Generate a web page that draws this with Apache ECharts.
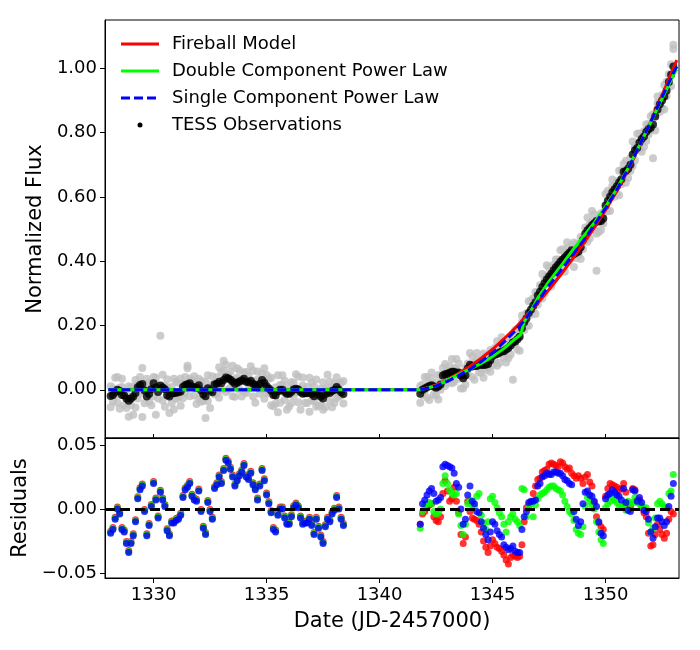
<!DOCTYPE html>
<html>
<head>
<meta charset="utf-8">
<script src="https://cdn.jsdelivr.net/npm/echarts@6/dist/echarts.min.js"></script>
<style>
  html, body { margin: 0; padding: 0; background: #fff; }
  #chart { width: 700px; height: 650px; }
</style>
</head>
<body>
<div id="chart"></div>
<script>
// observation times (JD-2457000), before the gap and after it
const tEarly = [
  1328.1,1328.2,1328.3,1328.4,1328.5,1328.6,1328.7,1328.8,1328.9,1329.0,
  1329.1,1329.2,1329.3,1329.4,1329.5,1329.6,1329.7,1329.8,1329.9,1330.0,
  1330.1,1330.2,1330.3,1330.4,1330.5,1330.6,1330.7,1330.8,1330.9,1331.0,
  1331.1,1331.2,1331.3,1331.4,1331.5,1331.6,1331.7,1331.8,1331.9,1332.0,
  1332.1,1332.2,1332.3,1332.4,1332.5,1332.6,1332.7,1332.8,1332.9,1333.0,
  1333.1,1333.2,1333.3,1333.4,1333.5,1333.6,1333.7,1333.8,1333.9,1334.0,
  1334.1,1334.2,1334.3,1334.4,1334.5,1334.6,1334.7,1334.8,1334.9,1335.0,
  1335.1,1335.2,1335.3,1335.4,1335.5,1335.6,1335.7,1335.8,1335.9,1336.0,
  1336.1,1336.2,1336.3,1336.4,1336.5,1336.6,1336.7,1336.8,1336.9,1337.0,
  1337.1,1337.2,1337.3,1337.4,1337.5,1337.6,1337.7,1337.8,1337.9,1338.0,
  1338.1,1338.2,1338.3,1338.4
];
const tLate = [
  1341.8,1341.9,1342.0,1342.1,1342.2,1342.3,1342.4,1342.5,1342.6,1342.7,
  1342.8,1342.9,1343.0,1343.1,1343.2,1343.3,1343.4,1343.5,1343.6,1343.7,
  1343.8,1343.9,1344.0,1344.1,1344.2,1344.3,1344.4,1344.5,1344.6,1344.7,
  1344.8,1344.9,1345.0,1345.1,1345.2,1345.3,1345.4,1345.5,1345.6,1345.7,
  1345.8,1345.9,1346.0,1346.1,1346.2,1346.3,1346.4,1346.5,1346.6,1346.7,
  1346.8,1346.9,1347.0,1347.1,1347.2,1347.3,1347.4,1347.5,1347.6,1347.7,
  1347.8,1347.9,1348.0,1348.1,1348.2,1348.3,1348.4,1348.5,1348.6,1348.7,
  1348.8,1348.9,1349.0,1349.1,1349.2,1349.3,1349.4,1349.5,1349.6,1349.7,
  1349.8,1349.9,1350.0,1350.1,1350.2,1350.3,1350.4,1350.5,1350.6,1350.7,
  1350.8,1350.9,1351.0,1351.1,1351.2,1351.3,1351.4,1351.5,1351.6,1351.7,
  1351.8,1351.9,1352.0,1352.1,1352.2,1352.3,1352.4,1352.5,1352.6,1352.7,
  1352.8,1352.9,1353.0
];

// raw TESS flux (grey), two samples per time step
const rawEarlyA = [
  0.011,-0.036,0.037,-0.040,0.006,0.034,-0.048,-0.007,-0.084,0.008,
  -0.078,0.030,-0.027,0.040,-0.085,0.013,0.034,-0.038,0.007,-0.020,
  0.037,-0.027,0.168,-0.033,0.012,0.033,-0.072,0.009,-0.061,0.026,
  -0.023,0.035,-0.026,0.040,0.075,0.035,0.030,-0.018,0.011,-0.026,
  0.028,-0.035,0.025,-0.035,0.008,0.042,-0.014,0.039,-0.025,0.055,
  0.090,0.078,0.001,0.056,-0.020,0.033,0.067,0.001,0.034,-0.006,
  0.055,0.003,0.073,-0.021,0.025,0.057,-0.012,0.050,-0.028,0.046,
  -0.011,0.037,-0.051,0.007,-0.070,0.015,0.045,-0.032,-0.007,-0.052,
  0.024,-0.019,0.048,-0.039,0.003,0.038,-0.041,0.009,-0.068,0.022,
  -0.035,0.032,-0.050,0.003,-0.062,0.001,0.047,-0.035,0.001,-0.041,
  0.039,-0.020,0.022,-0.043
];
const rawEarlyB = [
  -0.054,0.004,-0.018,0.040,-0.059,0.009,-0.013,-0.057,0.011,-0.047,
  0.009,-0.055,0.018,-0.010,0.068,-0.042,-0.006,0.022,-0.048,0.040,
  -0.078,0.013,0.003,0.047,-0.053,0.008,-0.016,-0.041,0.034,-0.029,
  0.022,-0.050,0.019,-0.010,0.067,-0.020,0.025,0.042,-0.044,0.034,
  -0.037,0.005,-0.088,0.045,-0.057,0.017,0.021,-0.011,0.070,0.000,
  0.060,-0.007,0.046,0.006,0.075,-0.022,0.037,0.061,-0.021,0.054,
  -0.010,0.043,0.018,0.059,-0.040,0.032,0.023,0.000,0.067,-0.009,
  0.034,-0.048,-0.006,-0.043,0.045,-0.040,0.015,0.028,-0.062,0.008,
  -0.041,0.021,-0.007,0.041,-0.062,0.013,-0.006,-0.041,0.037,-0.033,
  0.010,-0.053,-0.005,-0.047,0.023,-0.054,0.007,0.025,-0.054,0.019,
  -0.026,0.020,-0.018,0.027
];
const rawLateA = [
  0.012,-0.016,0.040,-0.024,0.020,0.054,-0.014,0.022,-0.030,0.044,
  0.032,0.080,0.022,0.073,0.020,0.068,0.096,0.034,0.048,0.004,
  0.068,0.050,0.114,0.040,0.083,0.114,0.054,0.093,0.037,0.106,
  0.068,0.124,0.077,0.130,0.075,0.127,0.163,0.100,0.129,0.098,
  0.162,0.031,0.186,0.125,0.173,0.231,0.186,0.238,0.199,0.278,
  0.249,0.304,0.265,0.325,0.284,0.343,0.387,0.332,0.365,0.340,
  0.405,0.373,0.434,0.373,0.419,0.459,0.402,0.450,0.382,0.454,
  0.418,0.475,0.438,0.505,0.460,0.515,0.556,0.498,0.370,0.491,
  0.549,0.517,0.609,0.555,0.608,0.654,0.600,0.649,0.605,0.683,
  0.666,0.712,0.659,0.720,0.696,0.757,0.796,0.749,0.784,0.756,
  0.826,0.794,0.851,0.720,0.858,0.912,0.864,0.916,0.872,0.958,
  0.945,1.012,1.060
];
const rawLateB = [
  -0.040,0.016,-0.004,0.040,-0.032,0.034,0.014,-0.018,0.046,0.000,
  0.068,0.012,0.058,0.033,0.096,0.024,0.064,0.082,0.004,0.052,
  0.016,0.082,0.070,0.104,0.031,0.094,0.082,0.053,0.113,0.062,
  0.104,0.056,0.113,0.090,0.151,0.083,0.131,0.148,0.085,0.146,
  0.110,0.163,0.142,0.189,0.121,0.211,0.214,0.198,0.275,0.234,
  0.285,0.236,0.301,0.285,0.360,0.299,0.355,0.380,0.321,0.388,
  0.353,0.405,0.390,0.437,0.367,0.439,0.430,0.410,0.458,0.410,
  0.454,0.407,0.474,0.465,0.536,0.471,0.524,0.546,0.485,0.539,
  0.497,0.549,0.565,0.619,0.556,0.634,0.628,0.609,0.681,0.639,
  0.702,0.644,0.695,0.680,0.772,0.713,0.764,0.797,0.740,0.804,
  0.774,0.826,0.807,0.857,0.806,0.892,0.892,0.876,0.948,0.914,
  0.981,0.944,1.073
];

// binned TESS flux (black). Before the rise all models are 0,
// so these are also the residuals of the first segment
const obsEarly = [
  -0.019,-0.016,-0.008,0.000,-0.004,-0.016,-0.018,-0.027,-0.034,-0.027,
  -0.021,-0.010,0.008,0.015,0.018,-0.002,-0.021,-0.013,0.002,0.020,
  0.007,-0.007,0.013,0.007,0.002,-0.017,-0.021,-0.011,-0.011,-0.009,
  -0.008,-0.005,0.009,0.015,0.017,0.020,0.010,0.007,0.006,0.014,
  -0.002,-0.015,-0.020,0.005,-0.002,-0.008,0.016,0.019,0.025,0.020,
  0.030,0.038,0.036,0.031,0.025,0.018,0.022,0.026,0.029,0.034,
  0.025,0.023,0.028,0.019,0.015,0.007,0.018,0.030,0.022,0.011,
  0.004,-0.003,-0.016,-0.018,-0.005,0.000,0.000,-0.007,-0.012,-0.012,
  -0.006,0.001,0.003,0.001,-0.007,-0.012,-0.011,-0.011,-0.008,-0.013,
  -0.020,-0.008,-0.015,-0.022,-0.027,-0.014,-0.008,-0.010,-0.004,-0.001,
  0.009,0.000,-0.008,-0.013
];
const obsLate = [
  -0.012,0.000,0.004,0.008,0.012,0.014,0.010,0.006,0.010,0.016,
  0.044,0.048,0.050,0.053,0.056,0.056,0.052,0.054,0.044,0.036,
  0.044,0.066,0.078,0.072,0.075,0.074,0.078,0.077,0.077,0.078,
  0.080,0.092,0.105,0.110,0.111,0.115,0.119,0.120,0.125,0.130,
  0.138,0.147,0.150,0.157,0.165,0.191,0.210,0.222,0.239,0.250,
  0.261,0.272,0.293,0.305,0.320,0.331,0.343,0.352,0.361,0.372,
  0.381,0.389,0.398,0.405,0.411,0.419,0.426,0.434,0.422,0.426,
  0.430,0.443,0.466,0.485,0.496,0.503,0.512,0.518,0.525,0.523,
  0.525,0.533,0.573,0.587,0.600,0.614,0.624,0.633,0.645,0.655,
  0.678,0.680,0.687,0.700,0.732,0.745,0.752,0.769,0.780,0.788,
  0.802,0.810,0.815,0.825,0.850,0.872,0.888,0.900,0.912,0.930,
  0.957,0.980,1.005
];

// model curves
const tModel = [
  1328.0,1341.8,1342.0,1342.5,1343.0,1343.5,1344.0,1344.5,1345.0,1345.5,
  1346.0,1346.25,1346.4,1346.5,1347.0,1347.5,1348.0,1348.5,1349.0,1349.5,
  1350.0,1350.5,1351.0,1351.5,1352.0,1352.5,1353.0,1353.15
];
const fireball = [
  0,0,0.004,0.015,0.031,0.051,0.073,0.098,0.126,0.158,
  0.192,0.211,0.222,0.230,0.270,0.312,0.356,0.403,0.452,0.504,
  0.559,0.618,0.684,0.757,0.834,0.915,1.000,1.025
];
const doublePL = [
  0,0,0.003,0.012,0.030,0.048,0.064,0.082,0.103,0.128,
  0.158,0.172,0.212,0.222,0.285,0.337,0.383,0.430,0.475,0.520,
  0.570,0.625,0.690,0.760,0.832,0.905,0.978,0.997
];
const singlePL = [
  0,0,0.003,0.012,0.026,0.044,0.064,0.088,0.115,0.148,
  0.183,0.203,0.216,0.224,0.275,0.325,0.370,0.415,0.462,0.512,
  0.565,0.622,0.688,0.760,0.833,0.910,0.985,1.005
];

// residuals after the gap, one array per model
const resFireLate = [
  -0.012,-0.004,-0.002,0.001,0.003,0.004,-0.006,-0.009,-0.010,-0.006,
  0.012,0.022,0.014,0.006,0.008,0.017,0.006,-0.003,-0.020,-0.027,
  -0.022,0.006,-0.002,-0.007,-0.008,-0.009,-0.012,-0.018,-0.025,-0.030,
  -0.034,-0.029,-0.024,-0.027,-0.030,-0.031,-0.033,-0.036,-0.040,-0.043,
  -0.038,-0.036,-0.037,-0.038,-0.037,-0.028,-0.010,0.001,0.003,0.005,
  0.012,0.018,0.023,0.024,0.029,0.030,0.031,0.035,0.036,0.035,
  0.034,0.033,0.037,0.036,0.033,0.031,0.032,0.028,0.026,0.024,
  0.026,0.024,0.020,0.025,0.027,0.021,0.018,0.005,-0.006,-0.011,
  -0.014,-0.016,0.010,0.016,0.020,0.019,0.018,0.017,0.015,0.016,
  0.020,0.013,0.004,0.002,0.016,0.015,0.007,0.007,0.001,-0.003,
  -0.006,-0.019,-0.029,-0.028,-0.020,-0.012,-0.016,-0.020,-0.023,-0.019,
  -0.008,-0.002,-0.004
];
const resDoubleLate = [
  -0.015,-0.002,0.002,0.004,0.005,0.004,-0.002,-0.004,-0.003,0.000,
  0.020,0.026,0.020,0.015,0.012,0.011,0.012,-0.004,-0.013,-0.020,
  -0.012,0.004,0.007,0.003,0.002,0.010,0.012,-0.005,-0.011,-0.016,
  -0.010,0.008,0.010,0.005,0.001,-0.003,-0.006,-0.012,-0.018,-0.010,
  -0.006,-0.004,-0.008,-0.010,-0.013,0.016,0.015,-0.006,0.002,0.004,
  -0.006,0.003,0.008,0.011,0.012,0.013,0.015,0.017,0.018,0.018,
  0.016,0.015,0.014,0.011,0.006,0.002,-0.002,-0.004,-0.009,-0.016,
  -0.019,-0.020,-0.014,0.002,0.009,0.006,0.003,0.000,-0.010,-0.018,
  -0.024,-0.027,0.001,0.004,0.006,0.009,0.007,0.005,0.002,0.002,
  0.003,-0.001,0.006,0.004,0.005,0.009,0.005,0.004,0.002,0.001,
  0.001,-0.011,-0.018,-0.015,-0.007,0.004,0.006,0.004,0.002,0.001,
  0.012,0.014,0.027
];
const resSingleLate = [
  -0.012,0.004,0.007,0.011,0.014,0.016,0.012,0.006,0.007,0.009,
  0.033,0.035,0.034,0.033,0.032,0.028,0.020,0.017,0.000,-0.012,
  -0.008,0.011,0.018,0.006,0.004,-0.002,-0.003,-0.010,-0.015,-0.020,
  -0.024,-0.018,-0.010,-0.012,-0.017,-0.020,-0.022,-0.028,-0.030,-0.032,
  -0.031,-0.029,-0.033,-0.034,-0.034,-0.016,-0.006,-0.002,0.005,0.006,
  0.006,0.007,0.018,0.020,0.025,0.026,0.028,0.027,0.027,0.029,
  0.029,0.028,0.028,0.026,0.023,0.022,0.020,0.019,-0.002,-0.008,
  -0.013,-0.010,0.004,0.013,0.014,0.011,0.010,0.006,0.002,-0.010,
  -0.019,-0.021,0.008,0.011,0.012,0.015,0.013,0.011,0.010,0.007,
  0.016,0.005,-0.001,-0.002,0.015,0.014,0.006,0.009,0.005,-0.001,
  -0.002,-0.008,-0.018,-0.023,-0.014,-0.007,-0.007,-0.010,-0.013,-0.010,
  0.002,0.010,0.020
];

// tick labels
const xTicks = [1330, 1335, 1340, 1345, 1350];
const fluxTicks = [0, 0.2, 0.4, 0.6, 0.8, 1.0];
const resTicks = [-0.05, 0, 0.05];

const FONT = "DejaVu Sans";
const pairs = (ts, vs) => ts.map((t, i) => [t, vs[i]]);
const fmt2 = v => (v < 0 ? "\u2212" : "") + Math.abs(v).toFixed(2);

const chart = echarts.init(document.getElementById("chart"), null, { renderer: "canvas" });

const xBase = {
  type: "value",
  min: 1327.85,
  max: 1353.25,
  splitLine: { show: false },
  axisLine: { show: true, onZero: false, lineStyle: { color: "#000", width: 1 } }
};
const yBase = {
  type: "value",
  splitLine: { show: false },
  axisLine: { show: true, onZero: false, lineStyle: { color: "#000", width: 1 } },
  axisTick: { show: true, length: 5, lineStyle: { color: "#000" } },
  axisLabel: { color: "#000", fontSize: 18, fontFamily: FONT, margin: 8, formatter: fmt2 },
  nameLocation: "middle",
  nameRotate: 90,
  nameTextStyle: { color: "#000", fontSize: 21, fontFamily: FONT }
};

function dots(name, data, color, size, xi, extra) {
  return Object.assign({
    name: name, type: "scatter", data: data, symbol: "circle", symbolSize: size,
    itemStyle: { color: color }, xAxisIndex: xi, yAxisIndex: xi, silent: true
  }, extra || {});
}
function curve(name, ys, color, dash) {
  return {
    name: name, type: "line", data: pairs(tModel, ys), symbol: "none", showSymbol: false,
    lineStyle: { color: color, width: 3, type: dash ? [9, 4] : "solid" },
    xAxisIndex: 0, yAxisIndex: 0, silent: true
  };
}

// legend drawn by hand to match the placement of the original
const legendRows = [
  { label: "Fireball Model", color: "#ff0000", kind: "line" },
  { label: "Double Component Power Law", color: "#00ff00", kind: "line" },
  { label: "Single Component Power Law", color: "#0000ff", kind: "dash" },
  { label: "TESS Observations", color: "#000", kind: "dot" }
];
const legendGraphics = [];
legendRows.forEach((r, i) => {
  const y = 44 + i * 27;
  if (r.kind === "dot") {
    legendGraphics.push({ type: "circle", shape: { cx: 140, cy: y, r: 2.5 }, style: { fill: r.color } });
  } else {
    legendGraphics.push({
      type: "line", shape: { x1: 121, y1: y, x2: 159, y2: y },
      style: { stroke: r.color, lineWidth: 3, lineDash: r.kind === "dash" ? [9, 4] : null }
    });
  }
  legendGraphics.push({
    type: "text", x: 172, y: y,
    style: { text: r.label, fill: "#000", fontSize: 18, fontFamily: FONT, verticalAlign: "middle" }
  });
});

const option = {
  animation: false,
  backgroundColor: "#fff",
  grid: [
    { left: 105, top: 20, width: 574, height: 418, show: true, borderColor: "#000", borderWidth: 1 },
    { left: 105, top: 438, width: 574, height: 140, show: true, borderColor: "#000", borderWidth: 1 }
  ],
  xAxis: [
    Object.assign({}, xBase, {
      gridIndex: 0,
      axisTick: { show: true, inside: true, length: 4, customValues: xTicks, lineStyle: { color: "#000" } },
      axisLabel: { show: false }
    }),
    Object.assign({}, xBase, {
      gridIndex: 1,
      axisTick: { show: true, length: 5, customValues: xTicks, lineStyle: { color: "#000" } },
      axisLabel: {
        color: "#000", fontSize: 18, fontFamily: FONT, margin: 8, customValues: xTicks,
        formatter: v => String(v)
      },
      name: "Date (JD-2457000)",
      nameLocation: "middle",
      nameGap: 33,
      nameTextStyle: { color: "#000", fontSize: 21, fontFamily: FONT, verticalAlign: "top" }
    })
  ],
  yAxis: [
    Object.assign({}, yBase, {
      gridIndex: 0, min: -0.15, max: 1.15,
      axisTick: Object.assign({}, yBase.axisTick, { customValues: fluxTicks }),
      axisLabel: Object.assign({}, yBase.axisLabel, { customValues: fluxTicks }),
      name: "Normalized Flux", nameGap: 57
    }),
    Object.assign({}, yBase, {
      gridIndex: 1, min: -0.054, max: 0.0555,
      axisTick: Object.assign({}, yBase.axisTick, { customValues: resTicks }),
      axisLabel: Object.assign({}, yBase.axisLabel, { customValues: resTicks }),
      name: "Residuals", nameGap: 70
    })
  ],
  graphic: legendGraphics,
  series: [
    // top panel
    dots("rawEarlyA", pairs(tEarly, rawEarlyA), "#bfbfbf", 8, 0),
    dots("rawEarlyB", pairs(tEarly, rawEarlyB), "#bfbfbf", 8, 0),
    dots("rawLateA", pairs(tLate, rawLateA), "#bfbfbf", 8, 0),
    dots("rawLateB", pairs(tLate, rawLateB), "#bfbfbf", 8, 0),
    dots("TESS Observations", pairs(tEarly, obsEarly), "#000", 8, 0),
    dots("TESS Observations late", pairs(tLate, obsLate), "#000", 8, 0),
    curve("Fireball Model", fireball, "#ff0000", false),
    curve("Double Component Power Law", doublePL, "#00ff00", false),
    curve("Single Component Power Law", singlePL, "#0000ff", true),
    // residual panel
    dots("resFireEarly", pairs(tEarly, obsEarly), "#ff0000", 7, 1, { symbolOffset: [0, -2] }),
    dots("resFireLate", pairs(tLate, resFireLate), "#ff0000", 7, 1),
    dots("resDoubleEarly", pairs(tEarly, obsEarly), "#00ff00", 7, 1, { symbolOffset: [0, -1] }),
    dots("resDoubleLate", pairs(tLate, resDoubleLate), "#00ff00", 7, 1),
    dots("resSingleEarly", pairs(tEarly, obsEarly), "#0000ff", 7, 1),
    dots("resSingleLate", pairs(tLate, resSingleLate), "#0000ff", 7, 1),
    {
      name: "zero", type: "line", data: [], xAxisIndex: 1, yAxisIndex: 1, z: 10,
      markLine: {
        silent: true, symbol: "none", label: { show: false },
        lineStyle: { color: "#000", width: 3, type: [10, 5] },
        data: [{ yAxis: 0 }]
      }
    }
  ]
};

chart.setOption(option);
</script>
</body>
</html>
